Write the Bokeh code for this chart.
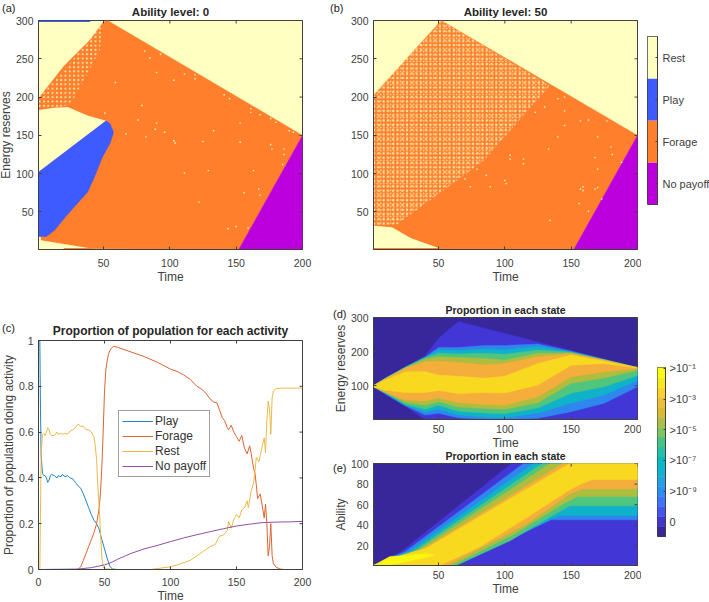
from bokeh.plotting import figure
from bokeh.layouts import column, row
from bokeh.models import Range1d, FixedTicker, Legend, LegendItem, Div
from bokeh.embed import file_html
from bokeh.resources import INLINE

CREAM, BLUE, ORANGE, PURPLE = "#FFFFC2", "#3E5BFF", "#FF7F2D", "#BB00DD"
INK = "#404040"
FONT = "Liberation Sans"

# ---- panel (a) regions, (time, energy)
a_orange_t = [53, 200, 152, 42, 20, 3, 1, 1, 20, 40, 50]
a_orange_e = [300, 150, 1, 2, 4, 13, 100, 198, 240, 275, 298]
a_nopay_t = [152, 200, 200]
a_nopay_e = [1, 150, 1]
a_pocket_t = [1, 1, 52, 38, 23, 13]
a_pocket_e = [183, 102, 169, 176, 187, 186]
a_play_t = [1, 52, 55, 57.6, 55, 49, 43, 38, 23, 13, 7, 1]
a_play_e = [102, 169, 165, 154, 140, 121, 95, 76, 47, 26, 18, 18]
a_low_t = [1, 1, 3, 42, 20]
a_low_e = [1, 12, 13, 2, 1]
a_sliver_t = [20, 42, 42, 20]
a_sliver_e = [1, 1, 3, 3]
a_top_t = [1, 40, 40, 1]
a_top_e = [298, 298, 300, 300]
a_speck_t = [1, 1, 25, 50, 47, 33, 25, 13]
a_speck_e = [186, 198, 245, 298, 260, 215, 190, 186]
a_dots_t = [51, 81, 85, 90, 93, 59, 79, 76, 82, 90, 89, 96, 67, 103, 104, 125, 153, 153, 111, 129, 163, 122, 156, 167, 168, 144, 150, 159, 161, 161, 168, 176, 180, 190, 193, 176, 177, 186, 186, 185, 103, 111, 119, 119, 141, 145, 133]
a_dots_e = [179, 260, 251, 232, 256, 219, 189, 170, 148, 166, 158, 154, 152, 143, 140, 142, 166, 141, 101, 104, 104, 63, 75, 80, 72, 28, 31, 29, 185, 180, 177, 172, 167, 156, 154, 138, 132, 132, 125, 112, 222, 230, 229, 224, 203, 198, 156]

# ---- panel (b) regions
b_orange_t = [1, 1, 52, 200, 152, 1]
b_orange_e = [1, 202, 300, 150, 1, 1]
b_low_t = [1, 1, 15, 29, 50, 1]
b_low_e = [3, 32, 30, 16, 3, 3]
b_nopay_t = [152, 200, 200]
b_nopay_e = [1, 150, 1]
b_speck_t = [1, 1, 52, 134, 84, 19, 1]
b_speck_e = [32, 202, 300, 215, 117, 34, 32]
b_dots_t = [145, 140, 130, 123, 145, 145, 157, 163, 140, 133, 170, 168, 170, 180, 181, 114, 114, 104, 104, 86, 100, 101, 89, 74, 79, 70, 157, 159, 159, 156, 163, 134, 168, 170, 173, 188, 177]
b_dots_e = [200, 198, 187, 180, 182, 163, 169, 170, 148, 132, 148, 121, 106, 135, 125, 119, 113, 124, 119, 98, 91, 87, 83, 83, 106, 93, 80, 83, 78, 61, 51, 39, 80, 82, 67, 115, 169]

# ---- activity colour key
key_names = ["No payoff", "Forage", "Play", "Rest"]
key_colors = [PURPLE, ORANGE, BLUE, CREAM]

# ---- panel (c)
play_t = [1, 1.5, 2, 3, 4, 5, 6, 7, 8, 9, 10, 12, 14, 15, 17, 18, 20, 22, 24, 26, 28, 30, 32, 34, 36, 38, 40, 42, 44, 46, 48, 50, 52, 54, 56, 60, 200]
play_v = [1, 0.7, 0.5, 0.42, 0.41, 0.41, 0.4, 0.38, 0.39, 0.41, 0.415, 0.41, 0.40, 0.41, 0.405, 0.415, 0.405, 0.41, 0.40, 0.395, 0.38, 0.365, 0.355, 0.33, 0.30, 0.27, 0.24, 0.215, 0.20, 0.175, 0.13, 0.09, 0.05, 0.015, 0.002, 0, 0]
forage_t = [1, 29, 30, 32, 34, 36, 38, 40, 42, 44, 46, 47, 48, 49, 50, 51, 52, 53, 54, 55, 57, 60, 70, 80, 90, 100, 105, 110, 115, 120, 123, 126, 130, 133, 135, 137, 139, 141, 143, 144, 146, 148, 150, 152, 154, 156, 158, 160, 161, 163, 164, 165, 166, 168, 170, 171, 172, 173, 174, 175, 176, 177, 178, 180, 183, 186, 200]
forage_v = [0, 0, 0.002, 0.012, 0.04, 0.07, 0.10, 0.13, 0.16, 0.2, 0.27, 0.34, 0.45, 0.6, 0.78, 0.87, 0.91, 0.94, 0.955, 0.965, 0.975, 0.97, 0.95, 0.93, 0.905, 0.875, 0.865, 0.85, 0.83, 0.80, 0.79, 0.775, 0.745, 0.73, 0.73, 0.70, 0.665, 0.65, 0.62, 0.61, 0.63, 0.60, 0.58, 0.56, 0.585, 0.53, 0.505, 0.54, 0.51, 0.44, 0.42, 0.37, 0.31, 0.33, 0.26, 0.225, 0.285, 0.2, 0.06, 0.10, 0.2, 0.06, 0.025, 0.01, 0.002, 0, 0]
rest_t = [1, 2, 3, 4, 5, 6, 7, 8, 9, 10, 12, 14, 15, 17, 18, 20, 22, 24, 26, 28, 30, 32, 34, 36, 38, 40, 42, 43, 44, 45, 46, 47, 48, 49, 50, 60, 85, 90, 100, 105, 110, 115, 120, 125, 130, 134, 137, 140, 143, 144, 146, 148, 150, 152, 154, 156, 158, 159, 161, 163, 164, 165, 167, 168, 170, 171, 172, 173, 174, 175, 176, 177, 178, 180, 185, 200]
rest_v = [0, 0.5, 0.59, 0.595, 0.585, 0.60, 0.62, 0.61, 0.59, 0.585, 0.585, 0.60, 0.59, 0.595, 0.59, 0.595, 0.59, 0.605, 0.61, 0.62, 0.635, 0.625, 0.625, 0.61, 0.61, 0.60, 0.58, 0.54, 0.48, 0.36, 0.27, 0.16, 0.05, 0.012, 0.003, 0, 0, 0.004, 0.012, 0.02, 0.03, 0.04, 0.06, 0.08, 0.10, 0.11, 0.145, 0.15, 0.17, 0.21, 0.18, 0.22, 0.24, 0.225, 0.26, 0.27, 0.30, 0.27, 0.34, 0.38, 0.43, 0.49, 0.47, 0.50, 0.55, 0.575, 0.51, 0.65, 0.735, 0.70, 0.59, 0.75, 0.78, 0.79, 0.792, 0.792]
nopay_t = [1, 30, 40, 50, 55, 60, 70, 80, 90, 100, 110, 120, 130, 140, 150, 160, 170, 180, 190, 200]
nopay_v = [0, 0.002, 0.008, 0.02, 0.03, 0.045, 0.07, 0.09, 0.105, 0.122, 0.138, 0.152, 0.165, 0.178, 0.19, 0.198, 0.205, 0.207, 0.208, 0.21]

# ---- panel (d): upper/lower limit of each density band at these times
d_t = [1, 10, 25, 40, 50, 65, 85, 100, 125, 150, 175, 200]
d_outer_up = [100, 123, 155, 187, 239, 288, 268, 253, 228, 203, 178, 153]
d_outer_lo = [97, 74, 40, 1, 1, 1, 1, 1, 1, 1, 1, 1]
d_blue_up = [100, 122, 155, 184, 212, 212, 218, 218, 222, 201, 177, 153]
d_blue_lo = [97, 76, 41, 14, 19, 6, 1, 1, 5, 24, 49, 97]
d_cyan_up = [100, 122, 154, 183, 205, 204, 207, 205, 215, 199, 176, 153]
d_cyan_lo = [97, 77, 43, 22, 31, 14, 8, 6, 20, 49, 73, 115]
d_green_up = [100, 122, 153, 182, 195, 193, 195, 192, 205, 198, 176, 153]
d_green_lo = [97, 79, 46, 31, 43, 25, 20, 18, 35, 78, 97, 130]
d_olive_up = [100, 121, 153, 178, 185, 183, 180, 175, 195, 196, 175, 153]
d_olive_lo = [97, 80, 51, 43, 53, 38, 33, 31, 50, 107, 123, 145]
d_orange_up = [100, 120, 151, 170, 172, 168, 161, 165, 185, 194, 175, 153]
d_orange_lo = [97, 81, 58, 55, 65, 51, 45, 43, 68, 126, 141, 150]
d_yellow_up = [100, 117, 141, 141, 131, 128, 122, 128, 165, 190, 172, 153]
d_yellow_lo = [97, 87, 80, 80, 86, 77, 80, 79, 102, 160, 165, 152]

# ---- panel (e): band polygons (time, ability)
e_outer_t = [1, 10, 22, 105, 200, 200, 1]
e_outer_a = [1, 7, 14.5, 100, 100, 1, 1]
e_blue_t = [1, 25, 114, 200, 200, 135, 71, 58, 1]
e_blue_a = [1, 14.6, 100, 100, 45.4, 45.4, 6, 1.6, 1]
e_cyan_t = [1, 28.5, 121.5, 200, 200, 141.6, 134, 66, 60, 1]
e_cyan_a = [1, 15, 100, 100, 49.5, 49.5, 46, 2.6, 1, 1]
e_green_t = [1, 32, 128, 200, 200, 149, 134, 104, 64, 1]
e_green_a = [1, 15.5, 100, 100, 59, 59, 48, 25, 1.6, 1]
e_olive_t = [1, 35, 134, 200, 200, 155, 144, 108, 61, 1]
e_olive_a = [1, 16, 100, 100, 68, 68, 61, 32, 1.6, 1]
e_orange_t = [1, 38.5, 144, 200, 200, 159, 149, 116, 57, 1]
e_orange_a = [1, 17, 100, 100, 75.4, 75.4, 70.5, 41, 1.6, 1]
e_yellow_t = [1, 10, 41, 43.6, 149, 200, 200, 166.7, 159, 149, 119, 81, 52, 1]
e_yellow_a = [1, 6, 18, 20, 100, 100, 84.5, 84.5, 81, 74.5, 49.5, 19, 1.6, 1]
e_bright_t = [1, 13.4, 26, 40, 47, 31, 13]
e_bright_a = [1, 9.7, 10.7, 12.3, 11, 6, 1.6]

BAND = dict(dark="#38279B", outer="#4236D7", blue="#2E86EE", cyan="#0FB2C9", green="#4FC57E",
            olive="#AEBD3E", orange="#F5AE3C", yellow="#F8D91F", bright="#F9F70F")

parula = ["#38279B", "#4335D0", "#4456F1", "#3E74FC", "#2D8DF4", "#22A2E4", "#10B2D4", "#06BBC4", "#24BFA7",
          "#45C485", "#7DC763", "#ADBD49", "#D9BA33", "#F3BC39", "#FDD12A", "#F5E91D", "#F9FB15"]
cbar_ticks = [0, 1, 2, 3, 4, 5]
cbar_labels = ["0", ">10\u207b\u2079", ">10\u207b\u2077", ">10\u207b\u2075", ">10\u207b\u00b3", ">10\u207b\u00b9"]
time_ticks = [50, 100, 150, 200]
panel_tags = [("(a)", 2, 1), ("(b)", 330, 1), ("(c)", 2, 321), ("(d)", 333, 307), ("(e)", 333, 461)]


def style_axis(ax, label=None, size="10.5px", standoff=5, label_standoff=1):
    ax.axis_line_color = INK
    ax.major_tick_line_color = INK
    ax.minor_tick_line_color = None
    ax.major_tick_in = 3
    ax.major_tick_out = 0
    ax.major_label_text_color = INK
    ax.major_label_text_font = FONT
    ax.major_label_text_font_size = size
    ax.major_label_standoff = standoff
    if label:
        ax.axis_label = label
        ax.axis_label_text_font = FONT
        ax.axis_label_text_font_size = "12px"
        ax.axis_label_text_font_style = "normal"
        ax.axis_label_text_color = INK
        ax.axis_label_standoff = label_standoff


def panel(w, h, bl, br, bt, bb, xr, yr, xticks, yticks, title=None, xlabel="Time", ylabel=None,
          tsize="11.5px", tstand=5, xstand=9, left_shift=0, top_shift=0):
    p = figure(frame_width=w, frame_height=h, min_border_left=bl, min_border_right=br, min_border_top=bt,
               min_border_bottom=bb, x_range=Range1d(*xr), y_range=Range1d(*yr), output_backend="svg",
               toolbar_location=None, outline_line_color=INK, margin=(top_shift, 0, 0, left_shift), frame_align=False)
    p.grid.visible = False
    p.xaxis.ticker = FixedTicker(ticks=xticks)
    p.yaxis.ticker = FixedTicker(ticks=yticks)
    style_axis(p.xaxis[0], xlabel, standoff=xstand, label_standoff=0)
    style_axis(p.yaxis[0], ylabel, label_standoff=0)
    if title:
        p.title.text = title
        p.title.align = "center"
        p.title.text_font = FONT
        p.title.text_font_size = tsize
        p.title.text_font_style = "bold"
        p.title.text_color = "#262626"
        p.title.standoff = tstand
        p.title.offset = 0
    return p


def box_ticks(p, xr, yr, xticks, yticks, w, h):
    """MATLAB-style inward ticks on the top and right edges, from the tick lists."""
    dy = (yr[1] - yr[0]) * 3 / h
    dx = (xr[1] - xr[0]) * 3 / w
    p.segment(xticks, [yr[1]] * len(xticks), xticks, [yr[1] - dy] * len(xticks), line_color=INK, line_width=1)
    p.segment([xr[1]] * len(yticks), yticks, [xr[1] - dx] * len(yticks), yticks, line_color=INK, line_width=1)


E_TICKS = [50, 100, 150, 200, 250, 300]

# (a)
pa = panel(264, 229, 44, 27, 20, 51, (1, 200), (1, 300), time_ticks, E_TICKS,
           "Ability level: 0", ylabel="Energy reserves", left_shift=-6)
pa.background_fill_color = CREAM
pa.patch(a_orange_t, a_orange_e, fill_color=ORANGE, line_color=ORANGE, line_width=0.5)
pa.patch(a_speck_t, a_speck_e, fill_color=None, line_color=None, hatch_pattern="dot", hatch_color=CREAM, hatch_scale=4.3, hatch_weight=0.7, hatch_alpha=0.8)
pa.patch(a_nopay_t, a_nopay_e, fill_color=PURPLE, line_color=PURPLE, line_width=0.5)
pa.patch(a_pocket_t, a_pocket_e, fill_color=CREAM, line_color=None)
pa.patch(a_play_t, a_play_e, fill_color=BLUE, line_color=BLUE, line_width=0.5)
pa.patch(a_low_t, a_low_e, fill_color=CREAM, line_color=None)
pa.patch(a_sliver_t, a_sliver_e, fill_color=ORANGE, line_color=None)
pa.patch(a_top_t, a_top_e, fill_color=BLUE, line_color=None)
pa.scatter(a_dots_t, a_dots_e, marker="square", size=1.4, fill_color=CREAM, line_color=None)
box_ticks(pa, (1, 200), (1, 300), time_ticks, E_TICKS, 264, 229)

# (b)
pb = panel(264, 229, 44, 4, 20, 51, (1, 200), (1, 300), time_ticks, E_TICKS, "Ability level: 50")
pb.background_fill_color = CREAM
pb.patch(b_orange_t, b_orange_e, fill_color=ORANGE, line_color=ORANGE, line_width=0.5)
pb.patch(b_low_t, b_low_e, fill_color=CREAM, line_color=None)
pb.patch(b_nopay_t, b_nopay_e, fill_color=PURPLE, line_color=PURPLE, line_width=0.5)
for hs in (3.3, 4.7):
    pb.patch(b_speck_t, b_speck_e, fill_color=None, line_color=None, hatch_pattern="dot", hatch_color=CREAM, hatch_scale=hs, hatch_weight=0.7, hatch_alpha=0.7)
pb.scatter(b_dots_t, b_dots_e, marker="square", size=1.4, fill_color=CREAM, line_color=None)
box_ticks(pb, (1, 200), (1, 300), time_ticks, E_TICKS, 264, 229)

# activity colourbar
cb1 = figure(frame_width=10, frame_height=168, min_border_left=6, min_border_right=52, min_border_top=36, min_border_bottom=96,
             x_range=Range1d(0, 1), y_range=Range1d(0, 4), output_backend="svg", toolbar_location=None, margin=0, frame_align=False,
             outline_line_color=INK, y_axis_location="right", x_axis_location=None)
cb1.grid.visible = False
cb1.quad(left=0, right=1, bottom=list(range(4)), top=list(range(1, 5)), fill_color=key_colors, line_color=None)
cb1.yaxis.ticker = FixedTicker(ticks=[0.5, 1.5, 2.5, 3.5])
cb1.yaxis.major_label_overrides = {i + 0.5: n for i, n in enumerate(key_names)}
style_axis(cb1.yaxis[0], size="11px")
cb1.yaxis.major_tick_in = 2
cb1.yaxis.major_label_standoff = 5

# (c)
C_XT = [0, 50, 100, 150, 200]
C_YT = [0, 0.2, 0.4, 0.6, 0.8, 1]
pc = panel(264, 229, 40, 27, 40, 32, (0, 200), (0, 1), C_XT, C_YT,
           "Proportion of population for each activity", ylabel="Proportion of population doing activity",
           tsize="12px", left_shift=-2, xstand=8)
r1 = pc.line(play_t, play_v, line_color="#1F84C8", line_width=1)
r2 = pc.line(forage_t, forage_v, line_color="#DD6433", line_width=1)
r3 = pc.line(rest_t, rest_v, line_color="#EDB94A", line_width=1)
r4 = pc.line(nopay_t, nopay_v, line_color="#9050A5", line_width=1)
box_ticks(pc, (0, 200), (0, 1), C_XT, C_YT, 264, 229)
leg = Legend(items=[LegendItem(label="Play", renderers=[r1]), LegendItem(label="Forage", renderers=[r2]),
                    LegendItem(label="Rest", renderers=[r3]), LegendItem(label="No payoff", renderers=[r4])],
             location=(80, 92), orientation="vertical", border_line_color=INK, border_line_width=1,
             label_text_font=FONT, label_text_font_size="12px", label_text_color="#333333",
             glyph_width=31, glyph_height=14, label_height=14, spacing=1, padding=3, margin=0, label_standoff=2)
pc.add_layout(leg, "center")

# (d)
D_YT = [100, 200, 300]
pd = panel(264, 102, 44, 4, 17, 31, (1, 200), (1, 300), time_ticks, D_YT, "Proportion in each state",
           ylabel="Energy reserves", tsize="10.5px", tstand=3, xstand=5)
pd.background_fill_color = BAND["dark"]
for col, up, lo in [("outer", d_outer_up, d_outer_lo), ("blue", d_blue_up, d_blue_lo), ("cyan", d_cyan_up, d_cyan_lo),
                    ("green", d_green_up, d_green_lo), ("olive", d_olive_up, d_olive_lo),
                    ("orange", d_orange_up, d_orange_lo), ("yellow", d_yellow_up, d_yellow_lo)]:
    pd.patch(d_t + d_t[::-1], up + lo[::-1], fill_color=BAND[col], line_color=BAND[col], line_width=0.5)
box_ticks(pd, (1, 200), (1, 300), time_ticks, D_YT, 264, 102)

# (e)
A_YT = [20, 40, 60, 80, 100]
pe = panel(264, 102, 44, 4, 15, 34, (1, 200), (1, 100), time_ticks, A_YT, "Proportion in each state",
           ylabel="Ability", tsize="10.5px", tstand=3, xstand=5, top_shift=-6)
pe.border_fill_color = None
pe.background_fill_color = BAND["dark"]
for col, tt, aa in [("outer", e_outer_t, e_outer_a), ("blue", e_blue_t, e_blue_a), ("cyan", e_cyan_t, e_cyan_a),
                    ("green", e_green_t, e_green_a), ("olive", e_olive_t, e_olive_a),
                    ("orange", e_orange_t, e_orange_a), ("yellow", e_yellow_t, e_yellow_a), ("bright", e_bright_t, e_bright_a)]:
    pe.patch(tt, aa, fill_color=BAND[col], line_color=BAND[col], line_width=0.5)
box_ticks(pe, (1, 200), (1, 100), time_ticks, A_YT, 264, 102)

# density colourbar
cb2 = figure(frame_width=8, frame_height=169, min_border_left=16, min_border_right=44, min_border_top=67, min_border_bottom=64,
             x_range=Range1d(0, 1), y_range=Range1d(-0.48, 5.03), output_backend="svg", toolbar_location=None, margin=0, frame_align=False,
             outline_line_color=INK, y_axis_location="right", x_axis_location=None)
cb2.grid.visible = False
n = len(parula)
span = 5.51 / n
cb2.quad(left=0, right=1, bottom=[-0.48 + i * span for i in range(n)], top=[-0.48 + (i + 1) * span for i in range(n)],
         fill_color=parula, line_color=parula, line_width=0.5)
cb2.yaxis.ticker = FixedTicker(ticks=cbar_ticks)
cb2.yaxis.major_label_overrides = dict(zip(cbar_ticks, cbar_labels))
style_axis(cb2.yaxis[0], size="11px")
cb2.yaxis.major_tick_in = 2
cb2.yaxis.major_label_standoff = 4

tag_divs = [Div(text=t, width=16, height=13, margin=0,
                styles={"position": "absolute", "left": f"{x}px", "top": f"{y}px", "font-size": "11px", "z-index": "10",
                        "font-family": FONT, "color": "#222222"}) for t, x, y in panel_tags]
layout = column(row(pa, pb, cb1, spacing=0, margin=0),
                row(pc, column(pd, pe, spacing=0, margin=0), cb2, spacing=0, margin=0), *tag_divs, spacing=0, margin=0)
open("out.html", "w").write(file_html(layout, INLINE))
